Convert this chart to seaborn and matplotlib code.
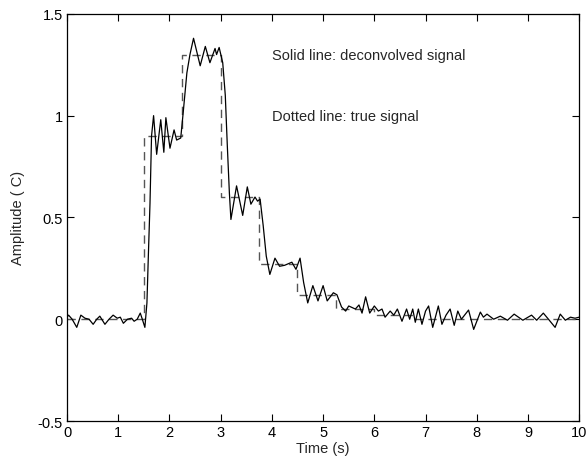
import matplotlib
matplotlib.use("Agg")
import matplotlib.pyplot as plt
import seaborn as sns
import pandas as pd

# Deconvolved signal (solid line)
sig_time = [0.00, 0.03, 0.10, 0.19, 0.27, 0.35, 0.43, 0.51, 0.58, 0.64, 0.74, 0.82,
            0.90, 0.98, 1.04, 1.10, 1.18, 1.26, 1.31, 1.37, 1.43, 1.47, 1.52, 1.56,
            1.59, 1.62, 1.65, 1.69, 1.75, 1.83, 1.89, 1.93, 2.01, 2.09, 2.14, 2.22,
            2.27, 2.34, 2.40, 2.47, 2.60, 2.70, 2.79, 2.89, 2.92, 2.97, 3.04, 3.09,
            3.13, 3.17, 3.20, 3.31, 3.43, 3.52, 3.59, 3.67, 3.72, 3.77, 3.83, 3.89,
            3.96, 4.06, 4.15, 4.25, 4.39, 4.47, 4.55, 4.62, 4.70, 4.80, 4.90, 5.00,
            5.08, 5.20, 5.27, 5.36, 5.44, 5.50, 5.63, 5.70, 5.76, 5.83, 5.91, 6.00,
            6.08, 6.15, 6.21, 6.31, 6.38, 6.45, 6.54, 6.63, 6.69, 6.75, 6.80, 6.86,
            6.93, 7.00, 7.06, 7.14, 7.25, 7.32, 7.40, 7.48, 7.56, 7.63, 7.70, 7.84,
            7.94, 8.07, 8.13, 8.20, 8.33, 8.46, 8.60, 8.73, 8.90, 9.07, 9.17, 9.30,
            9.40, 9.53, 9.63, 9.73, 9.83, 9.92, 10.00]
sig_value = [0.01, 0.02, 0.00, -0.04, 0.02, 0.005, 0.00, -0.025, 0.00, 0.015, -0.025, 0.00,
             0.02, 0.005, 0.01, -0.02, 0.00, 0.005, -0.01, 0.00, 0.03, 0.00, -0.04, 0.08,
             0.33, 0.57, 0.90, 1.00, 0.81, 0.98, 0.82, 0.99, 0.84, 0.93, 0.88, 0.89,
             1.02, 1.21, 1.30, 1.38, 1.245, 1.34, 1.26, 1.33, 1.30, 1.335, 1.26, 1.10,
             0.85, 0.62, 0.49, 0.655, 0.51, 0.65, 0.565, 0.60, 0.58, 0.59, 0.46, 0.31,
             0.22, 0.30, 0.26, 0.265, 0.28, 0.245, 0.30, 0.18, 0.08, 0.165, 0.09, 0.165,
             0.09, 0.13, 0.12, 0.06, 0.04, 0.065, 0.05, 0.07, 0.03, 0.11, 0.03, 0.065,
             0.04, 0.05, 0.01, 0.04, 0.02, 0.05, -0.01, 0.05, 0.00, 0.05, -0.015, 0.05,
             -0.025, 0.04, 0.065, -0.04, 0.065, -0.025, 0.02, 0.05, -0.03, 0.04, 0.00, 0.045,
             -0.05, 0.035, 0.01, 0.025, 0.00, 0.015, -0.005, 0.025, -0.005, 0.02, -0.005, 0.03,
             0.00, -0.04, 0.025, -0.005, 0.01, 0.005, 0.01]

# True signal (dashed step function)
step_time = [0.0, 1.5, 2.25, 3.0, 3.75, 4.5, 5.25, 6.0, 6.75, 10.0]
step_value = [0.0, 0.9, 1.3, 0.6, 0.27, 0.12, 0.05, 0.02, 0.0, 0.0]

x_ticks = [0, 1, 2, 3, 4, 5, 6, 7, 8, 9, 10]
y_ticks = [-0.5, 0, 0.5, 1, 1.5]
y_tick_labels = ["-0.5", "0", "0.5", "1", "1.5"]

sns.set_style("ticks")
plt.rcParams["font.family"] = ["Liberation Sans", "DejaVu Sans"]
plt.rcParams["font.size"] = 10.5

fig = plt.figure(figsize=(5.88, 4.64), dpi=100)
ax = fig.add_axes([0.114, 0.0905, 0.871, 0.8775])

sig_df = pd.DataFrame({"t": sig_time, "y": sig_value})
step_df = pd.DataFrame({"t": step_time, "y": step_value})

sns.lineplot(data=step_df, x="t", y="y", ax=ax, color="#555555", lw=1.0,
             linestyle=(0, (6, 4)), drawstyle="steps-post", estimator=None, sort=False)
sns.lineplot(data=sig_df, x="t", y="y", ax=ax, color="black", lw=0.9,
             estimator=None, sort=False)

ax.set_xlim(0, 10)
ax.set_ylim(-0.5, 1.5)
ax.set_xticks(x_ticks)
ax.set_xticklabels([str(v) for v in x_ticks])
ax.set_yticks(y_ticks)
ax.set_yticklabels(y_tick_labels)
ax.tick_params(direction="in", top=True, right=True, length=5, width=0.8,
               labelsize=10.5, colors="black", pad=3)
for s in ax.spines.values():
    s.set_visible(True)
    s.set_linewidth(0.9)
    s.set_color("black")

ax.set_xlabel("Time (s)", fontsize=10.5, labelpad=1)
ax.set_ylabel("Amplitude ( C)", fontsize=10.5, labelpad=9)

ax.text(4.0, 1.3, "Solid line: deconvolved signal", fontsize=10.5, va="center", ha="left")
ax.text(4.0, 1.0, "Dotted line: true signal", fontsize=10.5, va="center", ha="left")

fig.savefig("out.png", dpi=100)
